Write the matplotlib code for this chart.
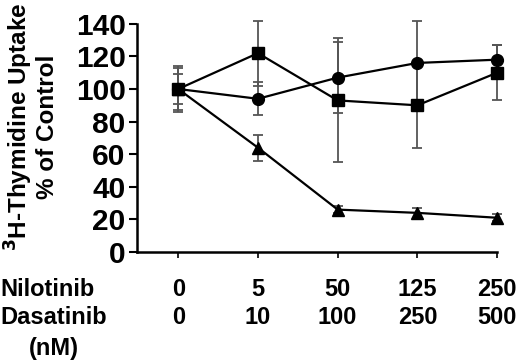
import matplotlib
matplotlib.use("Agg")
import matplotlib.pyplot as plt
import matplotlib.transforms as mtransforms

plt.rcParams['font.family'] = ['Liberation Sans', 'DejaVu Sans']

# dose labels (nM)
nilotinib = ["0", "5", "50", "125", "250"]
dasatinib = ["0", "10", "100", "250", "500"]

# % of control
circle = [100, 94, 107, 116, 118]
circle_err = [14, 10, 22, 26, 9]
square = [100, 122, 93, 90, 110]
square_err = [9, 20, 38, 26, 17]
triangle = [100, 64, 26, 24, 21]
triangle_err = [13, 8, 2, 3, 2]

fig = plt.figure(figsize=(5.2, 3.61), dpi=100)
ax = fig.add_axes([0.263, 0.302, 0.693, 0.632])

x = list(range(len(nilotinib)))
style = dict(color='black', lw=1.6, ms=8.5, elinewidth=1.3, ecolor='#555555',
             capsize=3.5, capthick=1.3, clip_on=False)
ax.errorbar(x, triangle, yerr=triangle_err, marker='^', **style)
ax.errorbar(x, square, yerr=square_err, marker='s', **style)
ax.errorbar(x, circle, yerr=circle_err, marker='o', **style)

ax.set_ylim(0, 140)
ax.set_yticks(range(0, 141, 20))
ax.set_xlim(-0.52, 4.0)
ax.set_xticks(x)
ax.set_xticklabels([])

for s in ['top', 'right']:
    ax.spines[s].set_visible(False)
for s in ['left', 'bottom']:
    ax.spines[s].set_linewidth(1.8)

ax.tick_params(axis='y', labelsize=21.5, length=6, width=1.5, pad=2)
ax.tick_params(axis='x', length=4, width=1.2)
for t in ax.get_yticklabels():
    t.set_fontweight('bold')

# two rows of dose labels under the axis
fs = 17
row = mtransforms.blended_transform_factory(ax.transData, fig.transFigure)
for xi, a, b in zip(x, nilotinib, dasatinib):
    ax.text(xi, 1 - 289 / 361, a, transform=row, fontsize=fs,
            fontweight='bold', ha='center', va='center')
    ax.text(xi, 1 - 318 / 361, b, transform=row, fontsize=fs,
            fontweight='bold', ha='center', va='center')
fig.text(0.0, 1 - 289 / 361, "Nilotinib", fontsize=fs, fontweight='bold',
         va='center', ha='left')
fig.text(0.0, 1 - 318 / 361, "Dasatinib", fontsize=fs, fontweight='bold',
         va='center', ha='left')
fig.text(54 / 520, 1 - 348 / 361, "(nM)", fontsize=fs, fontweight='bold',
         va='center', ha='center')

# y label, two lines
fig.text(19 / 520, 1 - 127 / 361, "$^\\mathbf{3}$H-Thymidine Uptake", rotation=90,
         fontsize=17.5, fontweight='bold', ha='center', va='center')
fig.text(47 / 520, 1 - 127 / 361, "% of Control", rotation=90,
         fontsize=17.5, fontweight='bold', ha='center', va='center')

fig.savefig("out.png", dpi=100)
